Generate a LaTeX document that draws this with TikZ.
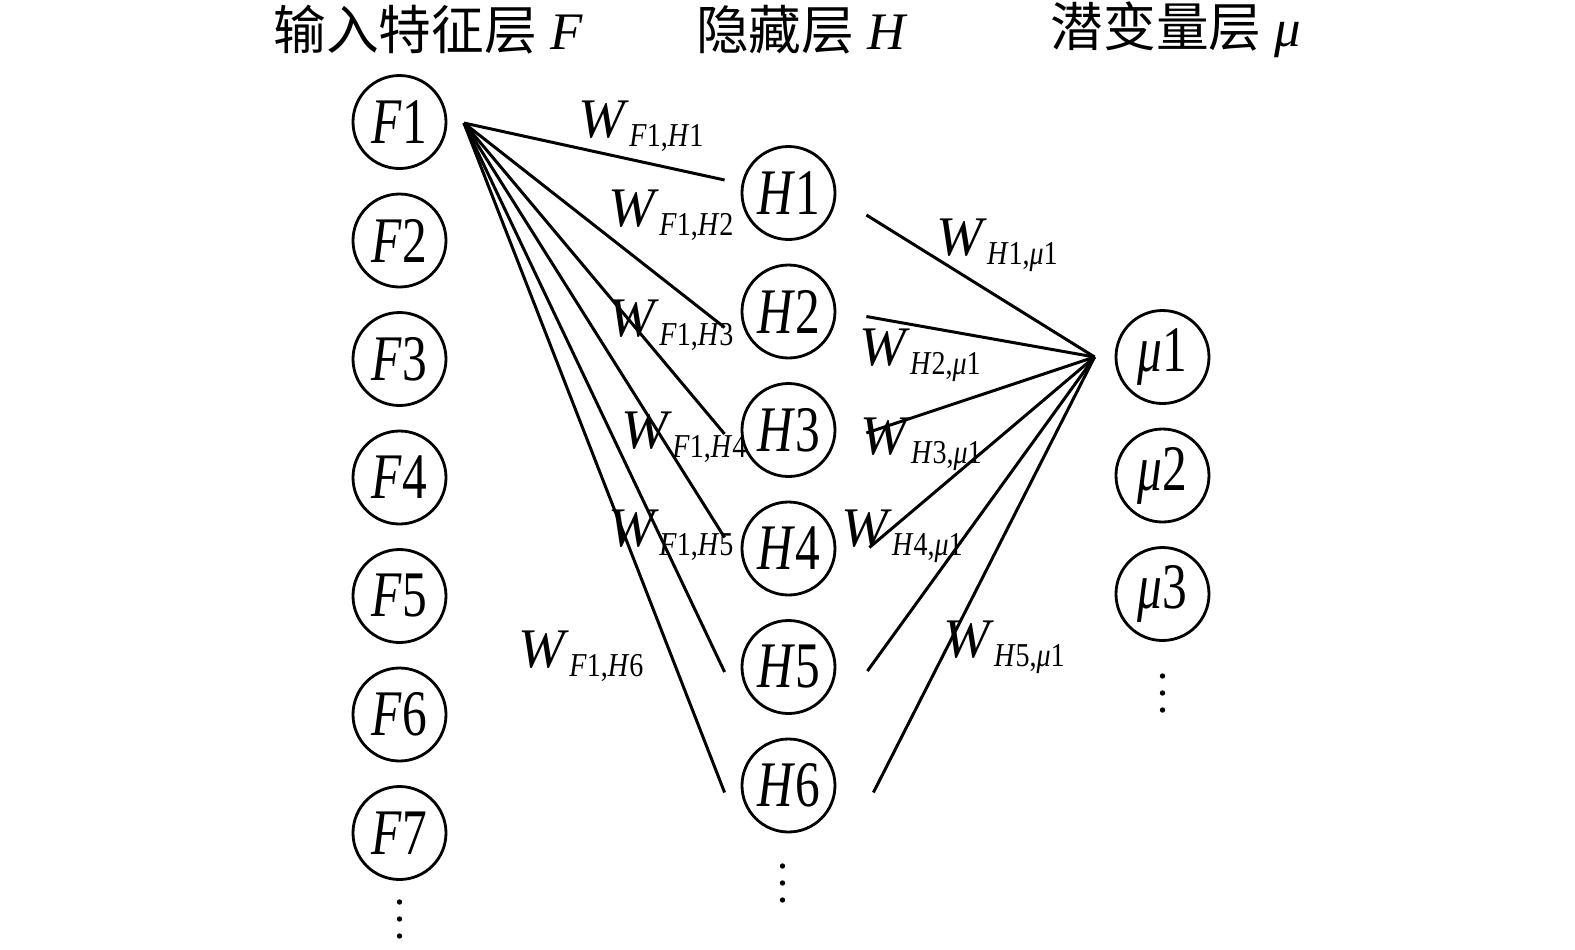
\documentclass[tikz,border=0pt]{standalone}
\usepackage{fontspec}
\setmainfont{Liberation Serif}
\newfontfamily\nodefont{Liberation Serif}[FakeStretch=0.76]
\newfontfamily\subfont{Liberation Serif}[FakeStretch=0.84]
\newfontfamily\cjk{Noto Sans CJK SC}
\usetikzlibrary{positioning}

\newcommand{\Wlab}[4]{\fontsize{15.9}{16}\selectfont\textit{W}\raisebox{-2.6pt}{\subfont\fontsize{9.5}{10}\selectfont\textit{#1}#2,\textit{#3}#4}}

\begin{document}
\begin{tikzpicture}[main/.style = {draw, circle, line width=0.8pt, minimum size=9.3mm, inner sep=0pt, font=\nodefont\fontsize{18.5}{19}\selectfont},
    wire/.style = {line width=0.85pt},
    wlab/.style = {inner sep=0pt},
    title/.style = {inner sep=0pt, font=\fontsize{15}{16}\selectfont},
    more/.style = {minimum width=1mm, minimum height=5mm, inner sep=0pt,
      path picture={\foreach \d in {-1,0,1} \fill ([yshift=\d*1.7mm]path picture bounding box.center) circle (0.27mm);}},
    node distance={11.85mm}]
\useasboundingbox (0,0) rectangle (15.75,-9.49);

% titles
\node[title] (tF) at (4.28,-0.30) {{\cjk 输入特征层} \textit{F}};
\node[title] (tH) at (8.02,-0.30) {{\cjk 隐藏层} \textit{H}};
\node[title] (tM) at (11.76,-0.30) {{\cjk 潜变量层} \textit{μ}};

% input layer
\node[main] (F1) at (3.995,-1.22) {\textit{F}1};
\node[main] (F2) [below of=F1] {\textit{F}2};
\node[main] (F3) [below of=F2] {\textit{F}3};
\node[main] (F4) [below of=F3] {\textit{F}4};
\node[main] (F5) [below of=F4] {\textit{F}5};
\node[main] (F6) [below of=F5] {\textit{F}6};
\node[main] (F7) [below of=F6] {\textit{F}7};
\node[more] (Fmore) [below of=F7, node distance=8.6mm] {};

% hidden layer
\node[main] (H1) at (7.885,-1.93) {\textit{H}1};
\node[main] (H2) [below of=H1] {\textit{H}2};
\node[main] (H3) [below of=H2] {\textit{H}3};
\node[main] (H4) [below of=H3] {\textit{H}4};
\node[main] (H5) [below of=H4] {\textit{H}5};
\node[main] (H6) [below of=H5] {\textit{H}6};
\node[more] (Hmore) [below of=H6, node distance=9.75mm, xshift=-0.6mm] {};

% latent layer
\node[main] (M1) at (11.625,-3.57) {\textit{μ}1};
\node[main] (M2) [below of=M1] {\textit{μ}2};
\node[main] (M3) [below of=M2] {\textit{μ}3};
\node[more] (Mmore) [below of=M3, node distance=9.9mm] {};

% line ends
\coordinate (F1out) at ([xshift=1.65mm, yshift=-0.1mm]F1.east);
\coordinate (M1in) at ([xshift=-2mm]M1.west);
\coordinate (H1in) at ([xshift=-1.6mm, yshift=1.3mm]H1.west);
\coordinate (H2in) at ([xshift=-1.6mm, yshift=-1.6mm]H2.west);
\coordinate (H3in) at ([xshift=-1.6mm, yshift=-0.4mm]H3.west);
\coordinate (H4in) at ([xshift=-1.6mm, yshift=1.1mm]H4.west);
\coordinate (H5in) at ([xshift=-1.6mm, yshift=-0.5mm]H5.west);
\coordinate (H6in) at ([xshift=-1.6mm, yshift=-0.7mm]H6.west);
\coordinate (H1out) at ([xshift=3mm, yshift=-2.2mm]H1.east);
\coordinate (H2out) at ([xshift=3mm, yshift=-0.5mm]H2.east);
\coordinate (H3out) at ([xshift=3mm, yshift=-0.3mm]H3.east);
\coordinate (H4out) at ([xshift=3.3mm, yshift=0.1mm]H4.east);
\coordinate (H5out) at ([xshift=3.1mm, yshift=-0.4mm]H5.east);
\coordinate (H6out) at ([xshift=3.7mm, yshift=-0.7mm]H6.east);

\draw[wire] (F1out) -- (H1in);
\draw[wire] (F1out) -- (H2in);
\draw[wire] (F1out) -- (H3in);
\draw[wire] (F1out) -- (H4in);
\draw[wire] (F1out) -- (H5in);
\draw[wire] (F1out) -- (H6in);
\draw[wire] (H1out) -- (M1in);
\draw[wire] (H2out) -- (M1in);
\draw[wire] (H3out) -- (M1in);
\draw[wire] (H4out) -- (M1in);
\draw[wire] (H5out) -- (M1in);
\draw[wire] (H6out) -- (M1in);

% weights
\node[wlab] (w11) at (6.41,-1.26) {\Wlab{F}{1}{H}{1}};
\node[wlab] (w12) at (6.71,-2.15) {\Wlab{F}{1}{H}{2}};
\node[wlab] (w13) at (6.71,-3.25) {\Wlab{F}{1}{H}{3}};
\node[wlab] (w14) at (6.84,-4.37) {\Wlab{F}{1}{H}{4}};
\node[wlab] (w15) at (6.71,-5.35) {\Wlab{F}{1}{H}{5}};
\node[wlab] (w16) at (5.81,-6.56) {\Wlab{F}{1}{H}{6}};
\node[wlab] (v1) at (9.97,-2.45) {\Wlab{H}{1}{μ}{1}};
\node[wlab] (v2) at (9.20,-3.55) {\Wlab{H}{2}{μ}{1}};
\node[wlab] (v3) at (9.21,-4.44) {\Wlab{H}{3}{μ}{1}};
\node[wlab] (v4) at (9.02,-5.36) {\Wlab{H}{4}{μ}{1}};
\node[wlab] (v5) at (10.04,-6.47) {\Wlab{H}{5}{μ}{1}};
\end{tikzpicture}
\end{document}
